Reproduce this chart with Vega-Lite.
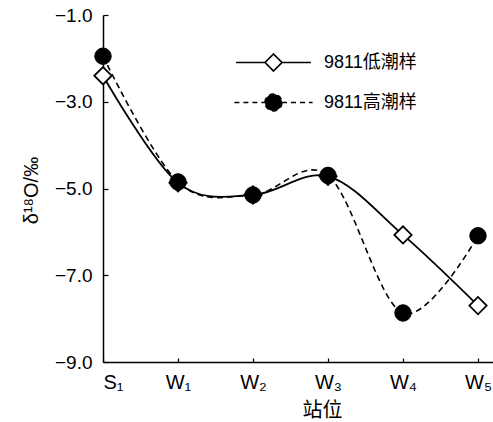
{
  "$schema": "https://vega.github.io/schema/vega-lite/v6.json",
  "autosize": {"type": "none"},
  "padding": {"left": 103, "top": 15, "right": 0, "bottom": 60},
  "width": 390,
  "height": 347,
  "background": "white",
  "config": {
    "view": {"stroke": null},
    "axis": {"grid": false, "domainColor": "black", "tickColor": "black", "labelColor": "black", "titleColor": "black", "domainWidth": 1.5, "tickWidth": 1.2, "labelFont": "Liberation Sans", "titleFont": "Liberation Sans, Noto Sans CJK SC", "titleFontWeight": "normal"},
    "legend": {"orient": "none", "legendX": 161, "legendY": 38, "padding": 0, "symbolSize": 289, "symbolStrokeWidth": 1.6, "symbolStrokeColor": "black", "labelOffset": 41, "rowPadding": 15, "labelFontSize": 18, "labelFont": "Liberation Sans, Noto Sans CJK SC", "labelColor": "black", "symbolOpacity": 1}
  },
  "data": {"values": [
    {"station": "S₁", "idx": 0, "series": "9811低潮样", "d18O": -2.4},
    {"station": "W₁", "idx": 1, "series": "9811低潮样", "d18O": -4.87},
    {"station": "W₂", "idx": 2, "series": "9811低潮样", "d18O": -5.15},
    {"station": "W₃", "idx": 3, "series": "9811低潮样", "d18O": -4.72},
    {"station": "W₄", "idx": 4, "series": "9811低潮样", "d18O": -6.07},
    {"station": "W₅", "idx": 5, "series": "9811低潮样", "d18O": -7.7},
    {"station": "S₁", "idx": 0, "series": "9811高潮样", "d18O": -1.95},
    {"station": "W₁", "idx": 1, "series": "9811高潮样", "d18O": -4.85},
    {"station": "W₂", "idx": 2, "series": "9811高潮样", "d18O": -5.15},
    {"station": "W₃", "idx": 3, "series": "9811高潮样", "d18O": -4.7},
    {"station": "W₄", "idx": 4, "series": "9811高潮样", "d18O": -7.87},
    {"station": "W₅", "idx": 5, "series": "9811高潮样", "d18O": -6.09}
  ]},
  "encoding": {
    "x": {"field": "idx", "type": "quantitative",
      "scale": {"domain": [0, 5.2], "nice": false, "zero": false},
      "axis": {"values": [0, 1, 2, 3, 4, 5], "labelExpr": "['S₁','W₁','W₂','W₃','W₄','W₅'][datum.value]", "tickSize": -4, "labelPadding": 14, "labelFontSize": 20, "title": "站位", "titleFontSize": 20, "titleX": 219, "titleY": 48, "titleBaseline": "middle", "titleFont": "Noto Sans CJK SC"}},
    "y": {"field": "d18O", "type": "quantitative",
      "scale": {"domain": [-9, -1], "nice": false, "zero": false},
      "axis": {"values": [-9, -7, -5, -3, -1], "format": ".1f", "tickSize": -5, "labelPadding": 16, "labelFontSize": 19, "title": "δ¹⁸O/‰", "titleFontSize": 20, "titleX": -72, "titleY": 175, "titleBaseline": "middle", "titleAlign": "center"}}
  },
  "layer": [
    {"transform": [{"filter": "datum.series === '9811低潮样'"}],
     "mark": {"type": "line", "interpolate": "cardinal", "tension": 0, "color": "black", "strokeWidth": 1.8}},
    {"transform": [{"filter": "datum.series === '9811高潮样'"}],
     "mark": {"type": "line", "interpolate": "cardinal", "tension": 0, "color": "black", "strokeWidth": 1.6, "strokeDash": [6, 4]}},
    {"transform": [{"filter": "datum.series === '9811低潮样'"}],
     "mark": {"type": "point", "shape": "diamond", "size": 300, "filled": true, "fill": "white", "stroke": "black", "strokeWidth": 1.8, "opacity": 1}},
    {"transform": [{"filter": "datum.series === '9811高潮样'"}],
     "mark": {"type": "point", "shape": "circle", "size": 270, "filled": true, "fill": "black", "stroke": "black", "strokeWidth": 1, "opacity": 1}},
    {"mark": {"type": "point", "opacity": 0, "stroke": "black"},
     "encoding": {
       "shape": {"field": "series", "type": "nominal",
         "scale": {"domain": ["9811低潮样", "9811高潮样"], "range": ["M-4.4,0H-1M0,-1L1,0L0,1L-1,0ZM1,0H4.4", "M-4.6,0H-1M-1,0A1,1,0,1,1,1,0A1,1,0,1,1,-1,0ZM1,0H4.6"]},
         "legend": {"title": null, "encode": {"symbols": {"update": {"stroke": {"value": "black"}, "strokeWidth": {"value": 1.6}, "opacity": {"value": 1}, "strokeOpacity": {"value": 1}, "fillOpacity": {"value": 1}}}}}},
       "fill": {"field": "series", "type": "nominal",
         "scale": {"domain": ["9811低潮样", "9811高潮样"], "range": ["white", "black"]},
         "legend": {"title": null, "encode": {"symbols": {"update": {"stroke": {"value": "black"}, "strokeWidth": {"value": 1.6}, "opacity": {"value": 1}, "strokeOpacity": {"value": 1}, "fillOpacity": {"value": 1}}}}}},
       "strokeDash": {"field": "series", "type": "nominal",
         "scale": {"domain": ["9811低潮样", "9811高潮样"], "range": [[1, 0], [5, 4]]},
         "legend": {"title": null, "encode": {"symbols": {"update": {"stroke": {"value": "black"}, "strokeWidth": {"value": 1.6}, "opacity": {"value": 1}, "strokeOpacity": {"value": 1}, "fillOpacity": {"value": 1}}}}}}
     }}
  ]
}
